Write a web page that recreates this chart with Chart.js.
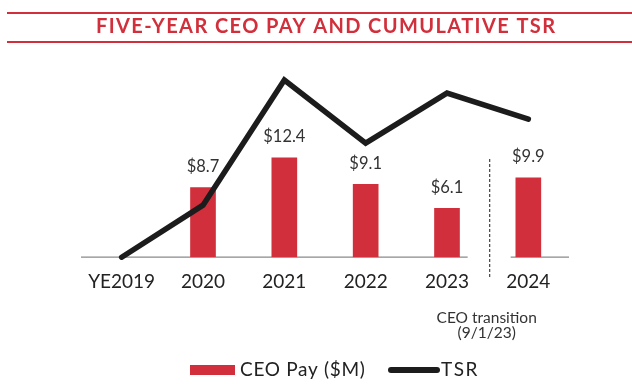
<!DOCTYPE html>
<html>
<head>
<meta charset="utf-8">
<script src="https://cdn.jsdelivr.net/npm/chart.js@4.4.1/dist/chart.umd.min.js"></script>
<style>
  html, body { margin: 0; padding: 0; background: #fff; }
  #wrap { width: 632px; height: 388px; }
</style>
</head>
<body>
<div id="wrap"><canvas id="payChart" width="632" height="388"></canvas></div>
<script>
const years = ['YE2019', '2020', '2021', '2022', '2023', '2024'];
const ceoPay = [null, 8.7, 12.4, 9.1, 6.1, 9.9];   // $M
const tsr = [0, 26, 88.5, 57, 82, 69];              // cumulative TSR, YE2019 = 0
const chartTitle = 'FIVE-YEAR CEO PAY AND CUMULATIVE TSR';
const transitionNote = ['CEO transition', '(9/1/23)'];

const RED = '#d12f3b';
const INK = '#1c1c1c';
const FONT = 'Lato, "Open Sans", sans-serif';

// title band with red rules above and below
const titleBand = {
    id: 'titleBand',
    beforeDraw(chart) {
        const ctx = chart.ctx;
        ctx.save();
        ctx.strokeStyle = RED;
        ctx.lineWidth = 2;
        [13, 42].forEach(y => {
            ctx.beginPath();
            ctx.moveTo(7, y);
            ctx.lineTo(632, y);
            ctx.stroke();
        });
        ctx.fillStyle = RED;
        ctx.font = 'bold 20px ' + FONT;
        ctx.letterSpacing = '1.4px';
        ctx.textAlign = 'left';
        ctx.textBaseline = 'middle';
        const w = ctx.measureText(chartTitle).width - 1.4;
        ctx.fillText(chartTitle, 325.5 - w / 2, 27);
        ctx.restore();
    }
};

// broken baseline + dashed divider before 2024
const baseline = {
    id: 'baseline',
    beforeDatasetsDraw(chart) {
        const {ctx, chartArea, scales: {x}} = chart;
        const y = chartArea.bottom;
        const divX = (x.getPixelForValue(4) + x.getPixelForValue(5)) / 2 + 2;
        ctx.save();
        ctx.strokeStyle = '#8a8a8a';
        ctx.lineWidth = 1.3;
        ctx.beginPath();
        ctx.moveTo(chartArea.left, y);
        ctx.lineTo(divX - 22, y);
        ctx.moveTo(divX + 21, y);
        ctx.lineTo(chartArea.right, y);
        ctx.stroke();

        ctx.strokeStyle = '#444';
        ctx.lineWidth = 1.2;
        ctx.setLineDash([3, 2]);
        ctx.beginPath();
        ctx.moveTo(divX, 159);
        ctx.lineTo(divX, 277);
        ctx.stroke();
        ctx.setLineDash([]);

        ctx.fillStyle = '#333';
        ctx.font = '15.5px ' + FONT;
        ctx.textAlign = 'center';
        ctx.textBaseline = 'middle';
        ctx.fillText(transitionNote[0], divX - 3, 318);
        ctx.fillText(transitionNote[1], divX - 3, 333);
        ctx.restore();
    }
};

// "$x.x" above each bar
const barValues = {
    id: 'barValues',
    afterDatasetsDraw(chart) {
        const ctx = chart.ctx;
        const meta = chart.getDatasetMeta(1);
        ctx.save();
        ctx.fillStyle = '#333';
        ctx.font = '16.5px ' + FONT;
        ctx.textAlign = 'center';
        ctx.textBaseline = 'middle';
        meta.data.forEach((bar, i) => {
            const v = ceoPay[i];
            if (v == null) return;
            ctx.fillText('$' + v.toFixed(1), bar.x, bar.y - 21);
        });
        ctx.restore();
    }
};

// legend along the bottom
const bottomLegend = {
    id: 'bottomLegend',
    afterDraw(chart) {
        const ctx = chart.ctx;
        const [line, bars] = chart.data.datasets;
        const y = 370;
        ctx.save();
        ctx.font = '19px ' + FONT;
        ctx.letterSpacing = '0.7px';
        ctx.textBaseline = 'middle';
        ctx.textAlign = 'left';
        ctx.fillStyle = bars.backgroundColor;
        ctx.fillRect(190, y - 5, 45, 10);
        ctx.fillStyle = '#222';
        ctx.fillText(bars.label, 240, y);

        ctx.strokeStyle = line.borderColor;
        ctx.lineWidth = 6;
        ctx.lineCap = 'round';
        ctx.beginPath();
        ctx.moveTo(391, y);
        ctx.lineTo(437, y);
        ctx.stroke();
        ctx.letterSpacing = '1.5px';
        ctx.fillText(line.label, 441, y);
        ctx.restore();
    }
};

new Chart(document.getElementById('payChart'), {
    data: {
        labels: years,
        datasets: [{
            type: 'line',
            label: 'TSR',
            data: tsr,
            yAxisID: 'y1',
            borderColor: INK,
            borderWidth: 5.5,
            borderCapStyle: 'round',
            borderJoinStyle: 'miter',
            pointRadius: 0,
            tension: 0,
            clip: false,
            order: 0
        }, {
            type: 'bar',
            label: 'CEO Pay ($M)',
            data: ceoPay,
            yAxisID: 'y',
            backgroundColor: RED,
            barThickness: 25,
            order: 1
        }]
    },
    options: {
        responsive: false,
        animation: false,
        devicePixelRatio: 1,
        layout: { padding: { left: 81, right: 63, top: 57, bottom: 82 } },
        scales: {
            x: {
                offset: true,
                grid: { display: false, drawTicks: false },
                border: { display: false },
                ticks: {
                    color: '#222',
                    padding: 13,
                    font: { family: FONT, size: 19 }
                }
            },
            y: { display: false, min: 0, max: 25 },
            y1: { display: false, min: 0, max: 100 }
        },
        plugins: {
            legend: { display: false },
            tooltip: { enabled: false }
        }
    },
    plugins: [titleBand, baseline, barValues, bottomLegend]
});
</script>
</body>
</html>
